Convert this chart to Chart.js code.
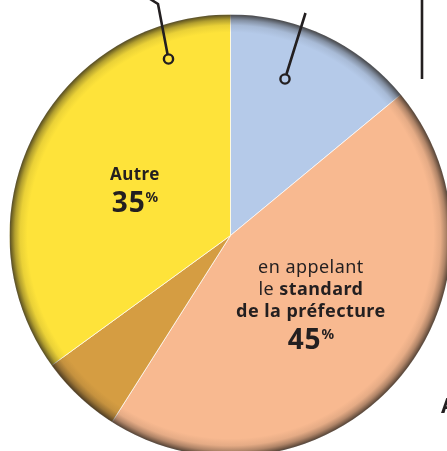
<!DOCTYPE html>
<html>
<head>
<meta charset="utf-8">
<script src="https://cdn.jsdelivr.net/npm/chart.js@4.4.1/dist/chart.umd.min.js"></script>
<style>
  html, body { margin: 0; padding: 0; background: #fff; overflow: hidden; }
  canvas { display: block; }
</style>
</head>
<body>
<canvas id="pie" width="470" height="480"></canvas>
<script>
// slices, clockwise from 12 o'clock
const categories = ['(hors cadre, bleu)', 'en appelant le standard de la préfecture', '(hors cadre, ocre)', 'Autre'];
const values = [14, 45, 6, 35];
const colors = ['#b5cae9', '#f8b990', '#d59d42', '#fee33a'];

// text shown inside slices (index -> lines of [text, bold])
const sliceLabels = {
    1: [[['en appelant', false]], [['le ', false], ['standard', true]], [['de la préfecture', true]]],
    3: [[['Autre', true]]]
};
const sliceValues = { 1: '45', 3: '35' };

const ink = '#231f20';
const font = '"Noto Sans", sans-serif';

const innerShadow = {
    id: 'innerShadow',
    afterDatasetsDraw(chart) {
        const arc = chart.getDatasetMeta(0).data[0];
        const { x, y, outerRadius: r } = arc;
        const ctx = chart.ctx;
        ctx.save();
        ctx.beginPath();
        ctx.arc(x, y, r, 0, Math.PI * 2);
        ctx.clip();
        const g = ctx.createRadialGradient(x, y, r - 18, x, y, r);
        g.addColorStop(0, 'rgba(35,30,25,0)');
        g.addColorStop(0.4, 'rgba(35,30,25,0.09)');
        g.addColorStop(0.7, 'rgba(35,30,25,0.34)');
        g.addColorStop(0.88, 'rgba(35,30,25,0.6)');
        g.addColorStop(1, 'rgba(35,30,25,0.78)');
        ctx.fillStyle = g;
        ctx.fillRect(x - r, y - r, r * 2, r * 2);
        ctx.restore();
    }
};

function setFont(ctx, w, size, spacing) {
    ctx.font = w + ' ' + size + 'px ' + font;
    ctx.letterSpacing = spacing + 'px';
}

function drawRich(ctx, parts, cx, y, size) {
    let w = 0;
    parts.forEach(([t, b]) => {
        setFont(ctx, b ? '700' : '400', size, 0.45);
        w += ctx.measureText(t).width;
    });
    let x = cx - w / 2;
    parts.forEach(([t, b]) => {
        setFont(ctx, b ? '700' : '400', size, 0.45);
        ctx.fillText(t, x, y);
        x += ctx.measureText(t).width;
    });
}

function drawPercent(ctx, num, cx, y) {
    setFont(ctx, '700', 28, 0.8);
    const nw = ctx.measureText(num).width;
    setFont(ctx, '700', 14, 0);
    const pw = ctx.measureText('%').width;
    let x = cx - (nw + pw) / 2;
    setFont(ctx, '700', 28, 0.8);
    ctx.fillText(num, x, y);
    setFont(ctx, '700', 14, 0);
    ctx.fillText('%', x + nw, y - 10);
}

const sliceText = {
    id: 'sliceText',
    afterDraw(chart) {
        const ctx = chart.ctx;
        const meta = chart.getDatasetMeta(0);
        ctx.save();
        ctx.fillStyle = ink;
        ctx.textBaseline = 'alphabetic';
        ctx.textAlign = 'left';
        Object.keys(sliceLabels).forEach(k => {
            const a = meta.data[k];
            const mid = (a.startAngle + a.endAngle) / 2;
            const cx = a.x + Math.cos(mid) * a.outerRadius * 0.485;
            const cy = a.y + Math.sin(mid) * a.outerRadius * 0.485;
            const lines = sliceLabels[k];
            const lineH = 22;
            const top = cy - (lines.length * lineH + 30) / 2 + (lines.length > 1 ? 1 : 5);
            lines.forEach((parts, i) => {
                drawRich(ctx, parts, cx, top + 14 + i * lineH, lines.length > 1 ? 18 : 17);
            });
            drawPercent(ctx, sliceValues[k], cx, top + lines.length * lineH + 24);
        });

        // callout leaders and frame bits
        ctx.letterSpacing = '0px';
        ctx.strokeStyle = ink;
        ctx.lineWidth = 2.6;
        ctx.lineCap = 'butt';
        ctx.beginPath();
        ctx.moveTo(150, -1);
        ctx.lineTo(158, 4);
        ctx.lineTo(167.5, 54);
        ctx.moveTo(305.5, 13);
        ctx.lineTo(286.5, 74);
        ctx.moveTo(422, 0);
        ctx.lineTo(422, 79);
        ctx.stroke();
        ctx.lineWidth = 2.4;
        [[168.5, 59], [285, 79]].forEach(([px, py]) => {
            ctx.beginPath();
            ctx.arc(px, py, 4.6, 0, Math.PI * 2);
            ctx.stroke();
        });
        ctx.font = '700 21px ' + font;
        ctx.fillText('A', 441, 413);
        ctx.restore();
    }
};

new Chart(document.getElementById('pie'), {
    type: 'pie',
    data: {
        labels: categories,
        datasets: [{
            data: values,
            backgroundColor: colors,
            borderColor: 'rgba(255,255,255,0.7)',
            borderWidth: 1,
            hoverOffset: 0
        }]
    },
    options: {
        responsive: false,
        animation: false,
        events: [],
        layout: { padding: { left: 9, top: 14, right: 18, bottom: 23 } },
        plugins: {
            legend: { display: false },
            tooltip: { enabled: false }
        }
    },
    plugins: [innerShadow, sliceText]
});
</script>
</body>
</html>
